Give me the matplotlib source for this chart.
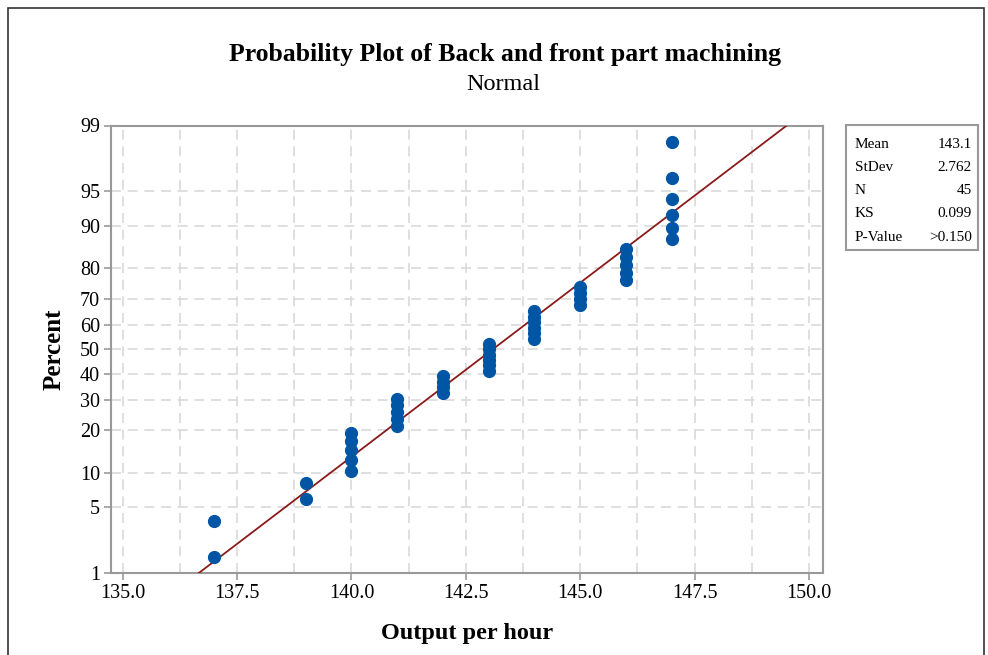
from statistics import NormalDist

import numpy as np
import matplotlib
import matplotlib.pyplot as plt
from matplotlib.patches import Rectangle

matplotlib.use('agg')

# output per hour values and how often each one occurs (n = 45)
values = [137, 139, 140, 141, 142, 143, 144, 145, 146, 147]
counts = [2, 2, 5, 5, 4, 6, 6, 4, 5, 6]

pct_ticks = [1, 5, 10, 20, 30, 40, 50, 60, 70, 80, 90, 95, 99]
x_ticks = [135.0, 137.5, 140.0, 142.5, 145.0, 147.5, 150.0]

stat_names = ["Mean", "StDev", "N", "KS", "P-Value"]
stat_values = ["143.1", "2.762", "45", "0.099", ">0.150"]

nd = NormalDist()
_inv = np.vectorize(lambda v: nd.inv_cdf(v / 100.0), otypes=[float])
_cdf = np.vectorize(lambda v: nd.cdf(v) * 100.0, otypes=[float])


def to_z(p):
    p = np.clip(np.asarray(p, dtype=float), 1e-6, 100 - 1e-6)
    return _inv(p)


def from_z(z):
    return _cdf(np.asarray(z, dtype=float))


data = np.repeat(values, counts).astype(float)
n = len(data)
ranks = np.arange(1, n + 1)
plot_pos = (ranks - 0.3) / (n + 0.4) * 100  # median ranks
mean = data.mean()
sd = data.std(ddof=1)

plt.rcParams['font.family'] = ['Liberation Serif', 'DejaVu Serif']

fig = plt.figure(figsize=(9.88, 6.55), dpi=100)
fig.patches.append(Rectangle((0.008, -0.01), 0.988, 0.998, transform=fig.transFigure,
                             fill=False, edgecolor='#333333', linewidth=1.2))

W, H = 988, 655
ax = fig.add_axes([111 / W, 1 - 573 / H, (823 - 111) / W, (573 - 125.5) / H])
ax.set_yscale('function', functions=(to_z, from_z))

# fitted line from 1% to 99%
p_line = np.linspace(1, 99, 200)
x_line = mean + sd * to_z(p_line)
ax.plot(x_line, p_line, color='#8B1A1A', linewidth=1.3, zorder=3)

ax.plot(data, plot_pos, 'o', color='#0055A5', markersize=8.5, zorder=4)

ax.set_xlim(134.744, 150.306)
ax.set_ylim(1, 99)
ax.set_xticks(x_ticks)
ax.set_xticklabels([f"{t:.1f}" for t in x_ticks])
ax.set_xticks(np.arange(135.0, 150.1, 1.25), minor=True)
ax.set_yticks(pct_ticks)
ax.set_yticklabels([str(t) for t in pct_ticks])
ax.yaxis.set_minor_locator(matplotlib.ticker.NullLocator())

ax.grid(True, which='both', axis='x', linestyle=(0, (6, 4)), color='#d9d9d9', linewidth=1.2)
ax.grid(True, which='major', axis='y', linestyle=(0, (6, 4)), color='#d9d9d9', linewidth=1.2)
ax.set_axisbelow(True)
ax.tick_params(which='major', direction='out', length=5, color='#999999', labelsize=14.5,
               width=1.2, pad=3)
ax.tick_params(which='minor', length=0)
for s in ax.spines.values():
    s.set_color('#999999')
    s.set_linewidth(1.5)

ax.set_xlabel('Output per hour', fontsize=17.5, fontweight='bold', labelpad=14)
ax.set_ylabel('Percent', fontsize=18, fontweight='bold', labelpad=10)

fig.text(505 / W, 1 - 55 / H, 'Probability Plot of Back and front part machining',
         ha='center', va='center', fontsize=18.5, fontweight='bold')
fig.text(503 / W, 1 - 84 / H, 'Normal', ha='center', va='center', fontsize=17.5)

# summary statistics box
bx0, by0, bx1, by1 = 846, 125, 978, 250
fig.patches.append(Rectangle((bx0 / W, 1 - by1 / H), (bx1 - bx0) / W, (by1 - by0) / H,
                             transform=fig.transFigure, fill=False,
                             edgecolor='#999999', linewidth=1.5))
for i, (name, val) in enumerate(zip(stat_names, stat_values)):
    yy = 1 - (144 + i * 23.3) / H
    fig.text(855 / W, yy, name, ha='left', va='center', fontsize=11)
    fig.text(972 / W, yy, val, ha='right', va='center', fontsize=11)

fig.savefig('out.png', dpi=100)
